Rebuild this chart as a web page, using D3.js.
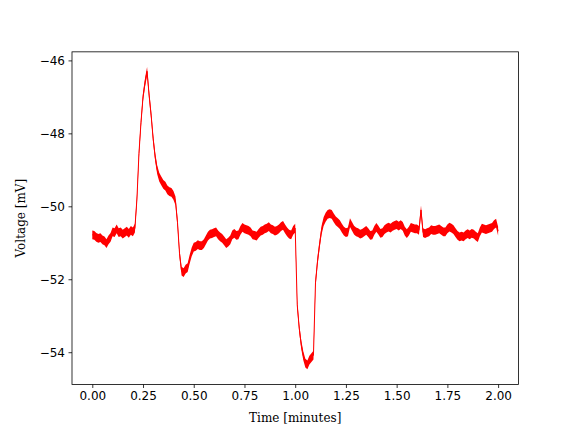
<!DOCTYPE html>
<html>
<head>
<meta charset="utf-8">
<script src="https://cdn.jsdelivr.net/npm/d3@7"></script>
<style>
  body { margin: 0; background: #fff; }
  svg { display: block; }
  .tick text { font-family: "DejaVu Sans", sans-serif; font-size: 12px; fill: #000; }
  .axlabel { font-family: "DejaVu Serif", serif; font-size: 12px; fill: #000; }
</style>
</head>
<body>
<svg id="chart" width="576" height="432"></svg>
<script>
// membrane voltage (mV), one sample every 0.01 minute
const sampleStep = 0.01;
const voltage = [
  -50.78, -50.80, -50.85, -50.88, -50.86, -50.92, -50.95, -51.02, -50.92, -50.85,
  -50.70, -50.72, -50.62, -50.72, -50.70, -50.76, -50.72, -50.68, -50.74, -50.66,
  -50.70, -50.60, -49.80, -48.55, -47.70, -47.00, -46.60, -46.30, -46.95, -47.50,
  -48.15, -48.65, -49.00, -49.20, -49.30, -49.40, -49.45, -49.55, -49.60, -49.62,
  -49.70, -49.85, -50.45, -51.30, -51.78, -51.82, -51.72, -51.68, -51.45, -51.25,
  -51.12, -51.10, -51.05, -51.08, -51.08, -51.02, -50.92, -50.82, -50.76, -50.75,
  -50.72, -50.70, -50.78, -50.84, -50.88, -50.95, -51.02, -50.98, -50.92, -50.78,
  -50.74, -50.80, -50.78, -50.66, -50.58, -50.62, -50.64, -50.66, -50.70, -50.78,
  -50.80, -50.82, -50.74, -50.68, -50.66, -50.62, -50.60, -50.56, -50.62, -50.64,
  -50.68, -50.66, -50.62, -50.56, -50.52, -50.62, -50.70, -50.76, -50.78, -50.66,
  -50.60, -52.70, -53.35, -53.80, -54.10, -54.30, -54.35, -54.22, -54.15, -54.08,
  -52.10, -51.50, -51.05, -50.65, -50.42, -50.30, -50.22, -50.20, -50.22, -50.32,
  -50.40, -50.45, -50.50, -50.60, -50.68, -50.72, -50.70, -50.45, -50.55, -50.65,
  -50.70, -50.72, -50.76, -50.74, -50.70, -50.66, -50.72, -50.80, -50.78, -50.66,
  -50.58, -50.65, -50.74, -50.72, -50.64, -50.60, -50.57, -50.60, -50.55, -50.52,
  -50.50, -50.54, -50.50, -50.55, -50.68, -50.75, -50.68, -50.58, -50.60, -50.62,
  -50.62, -50.66, -50.10, -50.72, -50.75, -50.72, -50.70, -50.64, -50.66, -50.66,
  -50.64, -50.62, -50.66, -50.70, -50.70, -50.62, -50.57, -50.60, -50.64, -50.72,
  -50.80, -50.84, -50.82, -50.84, -50.78, -50.75, -50.78, -50.74, -50.76, -50.82,
  -50.86, -50.70, -50.60, -50.62, -50.64, -50.62, -50.60, -50.58, -50.50, -50.46,
  -50.68
];
// half-height of the noise band round the trace (mV)
const noiseAmp = 0.12;

const xTicks = [0, 0.25, 0.5, 0.75, 1.0, 1.25, 1.5, 1.75, 2.0];
const yTicks = [-54, -52, -50, -48, -46];

const data = voltage.map((v, i) => ({t: +(i * sampleStep).toFixed(2), v: v}));

const svg = d3.select("#chart");
const margin = {left: 72, right: 57.6, top: 51.84, bottom: 47.52};
const W = 576, H = 432;
const pw = W - margin.left - margin.right;
const ph = H - margin.top - margin.bottom;

const tMin = d3.min(data, d => d.t), tMax = d3.max(data, d => d.t);
const vMin = d3.min(data, d => d.v - noiseAmp), vMax = d3.max(data, d => d.v + noiseAmp);
const tPad = (tMax - tMin) * 0.05, vPad = (vMax - vMin) * 0.05;

const x = d3.scaleLinear().domain([tMin - tPad, tMax + tPad]).range([0, pw]);
const y = d3.scaleLinear().domain([vMin - vPad, vMax + vPad]).range([ph, 0]);

const g = svg.append("g").attr("transform", `translate(${margin.left},${margin.top})`);

const fmtMinus = s => s.replace("-", "\u2212");

g.append("path")
  .datum(data)
  .attr("fill", "red")
  .attr("d", d3.area()
    .x(d => x(d.t))
    .y0(d => y(d.v - noiseAmp))
    .y1(d => y(d.v + noiseAmp)));

g.append("path")
  .datum(data)
  .attr("fill", "none")
  .attr("stroke", "red")
  .attr("stroke-width", 1)
  .attr("d", d3.line().x(d => x(d.t)).y(d => y(d.v)));

const xAxis = g.append("g")
  .attr("transform", `translate(0,${ph})`)
  .call(d3.axisBottom(x).tickValues(xTicks).tickFormat(d3.format(".2f"))
    .tickSizeInner(3.5).tickSizeOuter(0).tickPadding(3.5));
const yAxis = g.append("g")
  .call(d3.axisLeft(y).tickValues(yTicks).tickFormat(d => fmtMinus(d3.format("d")(d)))
    .tickSizeInner(3.5).tickSizeOuter(0).tickPadding(3.5));

[xAxis, yAxis].forEach(a => {
  a.select(".domain").remove();
  a.selectAll(".tick line").attr("stroke", "#000").attr("stroke-width", 0.8);
});

// frame
g.append("rect")
  .attr("width", pw).attr("height", ph)
  .attr("fill", "none").attr("stroke", "#000").attr("stroke-width", 0.8);

svg.append("text")
  .attr("class", "axlabel")
  .attr("x", margin.left + pw / 2)
  .attr("y", 422)
  .attr("text-anchor", "middle")
  .text("Time [minutes]");

svg.append("text")
  .attr("class", "axlabel")
  .attr("transform", `translate(25,${margin.top + ph / 2}) rotate(-90)`)
  .attr("text-anchor", "middle")
  .text("Voltage [mV]");
</script>
</body>
</html>
